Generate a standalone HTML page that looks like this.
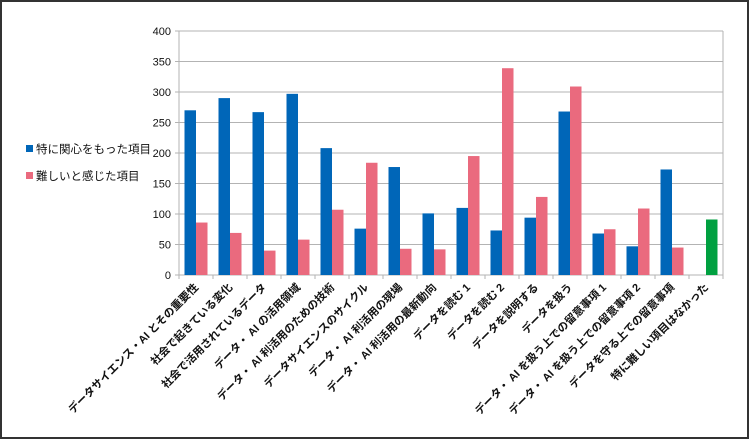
<!DOCTYPE html>
<html><head><meta charset="utf-8"><style>
body{margin:0;background:#fff}
svg{display:block;font-family:"Liberation Sans","Noto Sans CJK JP",sans-serif}
</style></head><body>
<svg id="c" width="750" height="440">
<rect x="1" y="1" width="747" height="437" fill="#fff" stroke="#333" stroke-width="2"/>
<g id="grid"></g><g id="bars"></g><g id="axes"></g>
<g>
<rect x="26" y="145" width="7" height="7" fill="#0066b8"/>
<text x="36" y="153" font-size="11.5" fill="#111">特に関心をもった項目</text>
<rect x="26" y="172" width="7" height="7" fill="#ea6a7e"/>
<text x="36" y="180" font-size="11.5" fill="#111">難しいと感じた項目</text>
</g>
</svg>
<script>
const categories=["データサイエンス・AI とその重要性","社会で起きている変化","社会で活用されているデータ","データ・ AI の活用領域","データ・ AI 利活用のための技術","データサイエンスのサイクル","データ・ AI 利活用の現場","データ・ AI 利活用の最新動向","データを読む 1","データを読む 2","データを説明する","データを扱う","データ・ AI を扱う上での留意事項 1","データ・ AI を扱う上での留意事項 2","データを守る上での留意事項","特に難しい項目はなかった"];
const interest=[270,290,267,297,208,76,177,101,110,73,94,268,68,47,173,null];
const difficult=[86,69,40,58,107,184,43,42,195,339,128,309,75,109,45,null];
const none=[null,null,null,null,null,null,null,null,null,null,null,null,null,null,null,91];
const yTicks=[0,50,100,150,200,250,300,350,400];
const NS="http://www.w3.org/2000/svg";
const X0=179,X1=723,Y0=275,Y1=31,YMAX=400;
const cw=(X1-X0)/categories.length, bw=11.5;
const y=v=>Y0-(v/YMAX)*(Y0-Y1);
const cx=i=>X0+cw*i+cw/2;
function mk(t,a,p){const e=document.createElementNS(NS,t);for(const k in a)e.setAttribute(k,a[k]);p.appendChild(e);return e;}
const G=document.getElementById('grid'),B=document.getElementById('bars'),A=document.getElementById('axes');
yTicks.forEach(t=>{
 const l=mk('line',{x1:X0-4,x2:X1,y1:y(t),y2:y(t),stroke:'#b3b3b3','stroke-width':1},G);
 
 
 const tx=mk('text',{x:X0-8,y:y(t)+4,'text-anchor':'end','font-size':11,fill:'#111'},A);
 tx.textContent=t;
 
 
});
mk('line',{x1:X1,x2:X1,y1:Y1,y2:Y0,stroke:'#b3b3b3'},G);
const ya=mk('line',{x1:X0,x2:X0,y1:Y1,y2:Y0+4,stroke:'#b3b3b3'},A);


for(let i=0;i<=categories.length;i++){mk('line',{x1:X0+cw*i,x2:X0+cw*i,y1:Y0,y2:Y0+4,stroke:'#b3b3b3'},A);}
function bar(v,x,col,name){
 if(v==null)return;
 const r=mk('rect',{x:x,y:y(v),width:bw,height:Y0-y(v),fill:col},B);
 
 
}
categories.forEach((c,i)=>{
 bar(interest[i],cx(i)-bw,'#0066b8','bar-interest-'+i);
 bar(difficult[i],cx(i),'#ea6a7e','bar-difficult-'+i);
 bar(none[i],cx(i),'#00a040','bar-none-'+i);
 const t=mk('text',{x:cx(i)+3,y:Y0+13,'text-anchor':'end','font-size':11,fill:'#111','font-weight':'bold',transform:`rotate(-45 ${cx(i)+3} ${Y0+13})`},A);
 t.textContent=c;
 
 
});
</script>
</body></html>
